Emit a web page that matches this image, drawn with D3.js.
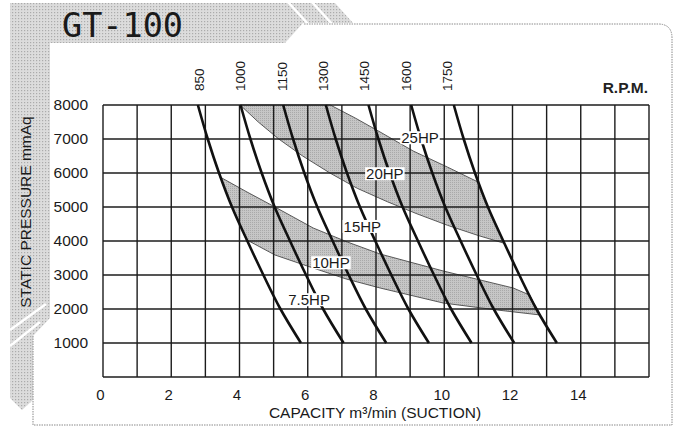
<!DOCTYPE html>
<html><head><meta charset="utf-8">
<script src="https://cdn.jsdelivr.net/npm/d3@7"></script>
<style>html,body{margin:0;padding:0;background:#fff;} svg{display:block}</style>
</head><body>
<svg id="c" width="678" height="428"></svg>
<script>
// ---------- data ----------
const chartTitle = "GT-100";
const xTitle = "CAPACITY m\u00B3/min (SUCTION)";
const yTitle = "STATIC PRESSURE mmAq";
const rpmUnit = "R.P.M.";
const xTickLabels = [0, 2, 4, 6, 8, 10, 12, 14];
const yTickLabels = [1000, 2000, 3000, 4000, 5000, 6000, 7000, 8000];
const rpms = [850, 1000, 1150, 1300, 1450, 1600, 1750];
const pressures = [8000, 7000, 6000, 5000, 4000, 3000, 2000, 1000];
const q850  = [2.78, 3.07, 3.40, 3.78, 4.23, 4.70, 5.20, 5.80];
const q1000 = [4.03, 4.32, 4.65, 5.03, 5.48, 5.95, 6.45, 7.05];
const q1150 = [5.28, 5.57, 5.90, 6.28, 6.73, 7.20, 7.70, 8.30];
const q1300 = [6.53, 6.82, 7.15, 7.53, 7.98, 8.45, 8.95, 9.55];
const q1450 = [7.78, 8.07, 8.40, 8.78, 9.23, 9.70, 10.20, 10.80];
const q1600 = [9.03, 9.32, 9.65, 10.03, 10.48, 10.95, 11.45, 12.05];
const q1750 = [10.28, 10.57, 10.90, 11.28, 11.73, 12.20, 12.70, 13.30];
// shaded HP bands: [capacity, pressure]
const bandHighUpper = [[6.66,8000],[7.39,7618],[8.12,7206],[9.09,6647],[10.09,6176],[11.0,5730]];
const bandHighRight = [[11.28,5000],[11.76,3932]];
const bandHighLower = [[11.0,4160],[10.1,4460],[9.2,4800],[8.33,5156],[7.45,5550],[6.65,6000],[5.85,6500],[5.15,7000],[4.55,7500],[4.02,8000]];
const bandLowUpper = [[3.43,5882],[4.22,5441],[5.04,5000],[6.16,4382],[7.16,3971],[8.12,3618],[9.97,3118],[12.02,2618],[12.5,2412]];
const bandLowLower = [[12.81,1824],[11.55,1971],[9.97,2176],[8.12,2618],[7.13,2882],[6.07,3235],[5.04,3588],[4.22,4029]];
const bandLowLeft = [[3.78,5000]];
const hpLabels = ["25HP", "20HP", "15HP", "10HP", "7.5HP"];
const hpAt = [[9.29,7029],[8.26,5971],[7.60,4421],[6.68,3353],[6.04,2265]];

// ---------- drawing ----------
const svg = d3.select("#c");
const FONT = "'Liberation Sans', Arial, sans-serif";
const x = d3.scaleLinear().domain([0, 16]).range([103, 649]);
const y = d3.scaleLinear().domain([0, 8000]).range([377, 105]);
const rpmX = d3.scaleLinear().domain([850, 1750]).range([199, 447]);

const defs = svg.append("defs");
const p1 = defs.append("pattern").attr("id","deco").attr("width",3).attr("height",3).attr("patternUnits","userSpaceOnUse");
p1.append("rect").attr("width",3).attr("height",3).attr("fill","#dcdcdc");
p1.append("rect").attr("width",1.2).attr("height",1.2).attr("fill","#ababab");
const p2 = defs.append("pattern").attr("id","band").attr("width",2).attr("height",2).attr("patternUnits","userSpaceOnUse");
p2.append("rect").attr("width",2).attr("height",2).attr("fill","#c6c6c6");
p2.append("rect").attr("width",1).attr("height",1).attr("fill","#a9a9a9");

// decorative frame
svg.append("path")
  .attr("d","M10,3 L335,3 L353,23 L303,23 L285,43 L50,43 L50,318 L33,336 L33,400 L22,410 L10,398 Z")
  .attr("fill","url(#deco)");
[[288,2,308,24],[312,2,332,24]].forEach(s=>svg.append("line").attr("x1",s[0]).attr("y1",s[1]).attr("x2",s[2]).attr("y2",s[3]).attr("stroke","#fff").attr("stroke-width",2.5));
[[10,330,46,304],[10,346,40,322]].forEach(s=>svg.append("line").attr("x1",s[0]).attr("y1",s[1]).attr("x2",s[2]).attr("y2",s[3]).attr("stroke","#fff").attr("stroke-width",2.5));
svg.append("path")
  .attr("d","M33,336 L33,425 L672,425 L672,38 Q672,24 658,24 L303,24")
  .attr("fill","none").attr("stroke","#8a8a8a").attr("stroke-width",1).attr("stroke-dasharray","1.5,1");

svg.append("text").attr("x",62).attr("y",37).attr("font-family","'DejaVu Sans Mono', monospace")
  .attr("font-size",33.5).attr("fill","#1a1a1a").text(chartTitle);

// bands
const line = d3.line().x(d => x(d[0])).y(d => y(d[1]));
const bandHigh = bandHighUpper.concat(bandHighRight, bandHighLower);
const bandLow = bandLowUpper.concat(bandLowLower, bandLowLeft);
[bandHigh, bandLow].forEach(b => {
  svg.append("path").attr("d", line(b) + "Z").attr("fill","url(#band)").attr("stroke","#4a4a4a").attr("stroke-width",0.9);
});

// grid
const grid = svg.append("g").attr("stroke","#1c1c1c").attr("stroke-width",1.4);
d3.range(0, 17).forEach(v => grid.append("line").attr("x1",x(v)).attr("x2",x(v)).attr("y1",y(0)).attr("y2",y(8000)));
d3.range(0, 8001, 1000).forEach(v => grid.append("line").attr("x1",x(0)).attr("x2",x(16)).attr("y1",y(v)).attr("y2",y(v)));

// axes labels
const ax = svg.append("g").attr("transform",`translate(0,${y(0)})`)
  .call(d3.axisBottom(x).tickValues(xTickLabels).tickSize(0).tickPadding(12).tickFormat(d3.format("d")));
ax.select(".domain").remove();
ax.selectAll("text").attr("font-family",FONT).attr("font-size",15).attr("fill","#1a1a1a").attr("dx",-3);
const ay = svg.append("g").attr("transform",`translate(${x(0)},0)`)
  .call(d3.axisLeft(y).tickValues(yTickLabels).tickSize(0).tickPadding(15).tickFormat(d3.format("d")));
ay.select(".domain").remove();
ay.selectAll("text").attr("font-family",FONT).attr("font-size",15.5).attr("fill","#1a1a1a");

// rpm curves
const curveLine = d3.line().x(d => x(d[0])).y(d => y(d[1])).curve(d3.curveCatmullRom);
const allQ = [q850, q1000, q1150, q1300, q1450, q1600, q1750];
allQ.forEach((qs, i) => {
  const pts = qs.map((q, j) => [q, pressures[j]]);
  svg.append("path").attr("d", curveLine(pts)).attr("fill","none").attr("stroke","#111").attr("stroke-width",2.6);
  svg.append("text").attr("transform",`translate(${rpmX(rpms[i]) + 5},91) rotate(-90)`)
    .attr("font-family",FONT).attr("font-size",13.5).attr("fill","#1a1a1a").text(rpms[i]);
});
svg.append("text").attr("x",648).attr("y",93).attr("text-anchor","end").attr("font-family",FONT)
  .attr("font-size",15.5).attr("font-weight","bold").attr("fill","#222").text(rpmUnit);

// HP labels with white background
hpLabels.forEach((t, i) => {
  const g = svg.append("g");
  const tx = g.append("text").attr("x", x(hpAt[i][0])).attr("y", y(hpAt[i][1])).attr("dy","0.35em")
    .attr("text-anchor","middle").attr("font-family",FONT).attr("font-size",15).attr("fill","#1a1a1a").text(t);
  const bb = tx.node().getBBox();
  g.insert("rect","text").attr("x",bb.x-1).attr("y",bb.y+2).attr("width",bb.width+2).attr("height",bb.height-4).attr("fill","#fff");
});

// titles
svg.append("text").attr("x",375).attr("y",418).attr("text-anchor","middle").attr("font-family",FONT)
  .attr("font-size",15.5).attr("fill","#1a1a1a").text(xTitle);
svg.append("text").attr("transform","translate(31,212) rotate(-90)").attr("text-anchor","middle").attr("font-family",FONT)
  .attr("font-size",15.5).attr("fill","#1a1a1a").text(yTitle);
</script>
</body></html>
